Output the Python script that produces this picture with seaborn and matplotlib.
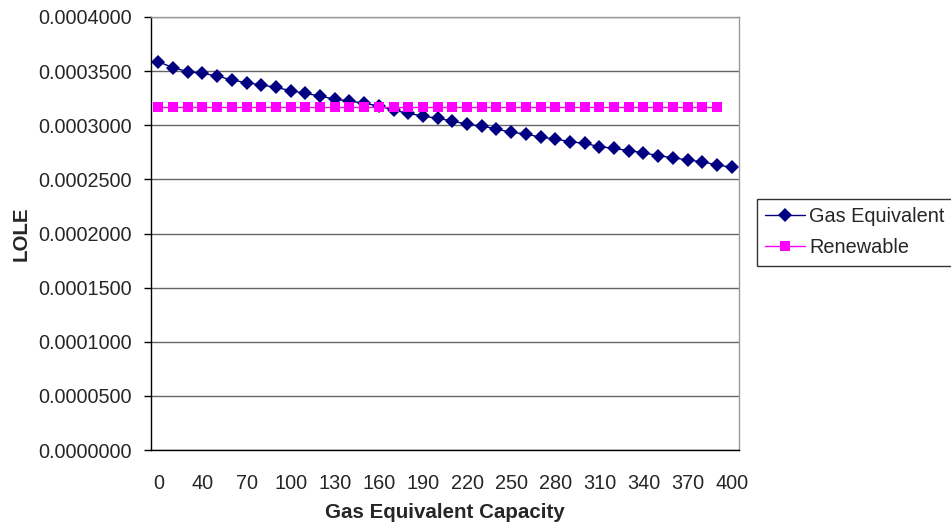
import numpy as np
import pandas as pd
import matplotlib
matplotlib.use("Agg")
import matplotlib.pyplot as plt
import seaborn as sns

# Category axis (Excel-style)
capacity = [0, 20, 30, 40, 50, 60, 70, 80, 90, 100,
            110, 120, 130, 140, 150, 160, 170, 180, 190, 200,
            210, 220, 230, 240, 250, 260, 270, 280, 290, 300,
            310, 320, 330, 340, 350, 360, 370, 380, 390, 400]

gas_lole = [0.0003587, 0.0003532, 0.0003495, 0.0003480, 0.0003455,
            0.0003418, 0.0003393, 0.0003372, 0.0003350, 0.0003319,
            0.0003295, 0.0003270, 0.0003240, 0.0003224, 0.0003203,
            0.0003178, 0.0003140, 0.0003110, 0.0003085, 0.0003064,
            0.0003039, 0.0003009, 0.0002993, 0.0002965, 0.0002935,
            0.0002919, 0.0002889, 0.0002873, 0.0002848, 0.0002833,
            0.0002802, 0.0002787, 0.0002765, 0.0002746, 0.0002719,
            0.0002700, 0.0002679, 0.0002663, 0.0002633, 0.0002612]

renewable_lole = [0.000317, 0.000317, 0.000317, 0.000317, 0.000317,
                  0.000317, 0.000317, 0.000317, 0.000317, 0.000317,
                  0.000317, 0.000317, 0.000317, 0.000317, 0.000317,
                  0.000317, 0.000317, 0.000317, 0.000317, 0.000317,
                  0.000317, 0.000317, 0.000317, 0.000317, 0.000317,
                  0.000317, 0.000317, 0.000317, 0.000317, 0.000317,
                  0.000317, 0.000317, 0.000317, 0.000317, 0.000317,
                  0.000317, 0.000317, 0.000317, 0.000317, np.nan]

series_names = ["Gas Equivalent", "Renewable"]
y_ticks = [0.0, 0.00005, 0.0001, 0.00015, 0.0002, 0.00025, 0.0003, 0.00035, 0.0004]

# Build long-form table
pos = list(range(len(capacity)))
df = pd.concat([
    pd.DataFrame({"pos": pos, "LOLE": gas_lole, "series": series_names[0]}),
    pd.DataFrame({"pos": pos, "LOLE": renewable_lole, "series": series_names[1]}),
]).dropna()

sns.set_style("white")
plt.rcParams["font.family"] = ["Liberation Sans", "DejaVu Sans"]
plt.rcParams["font.size"] = 14.3

fig = plt.figure(figsize=(9.51, 5.27), dpi=100)
ax = fig.add_axes([151 / 951, 77 / 527, 588 / 951, 433 / 527])

sns.lineplot(data=df, x="pos", y="LOLE", hue="series", style="series",
             palette={"Gas Equivalent": "#000080", "Renewable": "#FF00FF"},
             markers={"Gas Equivalent": "D", "Renewable": "s"},
             dashes=False, linewidth=1, markersize=7, markeredgewidth=0,
             ax=ax)

# y axis
ax.set_ylim(0, 0.0004)
ax.set_yticks(y_ticks)
ax.set_yticklabels([f"{v:.7f}" for v in y_ticks])
ax.yaxis.grid(True, color="#666666", linewidth=1)
ax.set_axisbelow(True)

# x axis: labels every third category, ticks between categories
ax.set_xlim(-0.5, len(capacity) - 0.5)
ax.set_xticks(pos[::3])
ax.set_xticklabels([str(c) for c in capacity[::3]])
ax.set_xticks(np.arange(-0.5, len(capacity), 1.0), minor=True)
ax.tick_params(axis="x", which="major", length=0, pad=17.5, labelsize=14.3)
ax.tick_params(axis="x", which="minor", length=5, color="black", width=1, direction="out")
ax.tick_params(axis="y", length=5, color="black", width=1, direction="out",
               left=True, pad=9, labelsize=14.3)

ax.set_xlabel("Gas Equivalent Capacity", fontweight="bold", fontsize=14.8, labelpad=7)
ax.set_ylabel("LOLE", fontweight="bold", fontsize=14.8, labelpad=5)

for side in ["left", "bottom"]:
    ax.spines[side].set_color("black")
    ax.spines[side].set_linewidth(1)
for side in ["top", "right"]:
    ax.spines[side].set_color("#999999")
    ax.spines[side].set_linewidth(1)

sns.move_legend(ax, "upper left", bbox_to_anchor=(757 / 951, (527 - 199) / 527),
                bbox_transform=fig.transFigure, title=None, frameon=True,
                fancybox=False, edgecolor="black", borderaxespad=0,
                borderpad=0.42, labelspacing=0.6, handlelength=2.0,
                handletextpad=0.2, fontsize=14.3)
ax.get_legend().get_frame().set_linewidth(1)

fig.savefig("out.png", dpi=100, facecolor="white")
